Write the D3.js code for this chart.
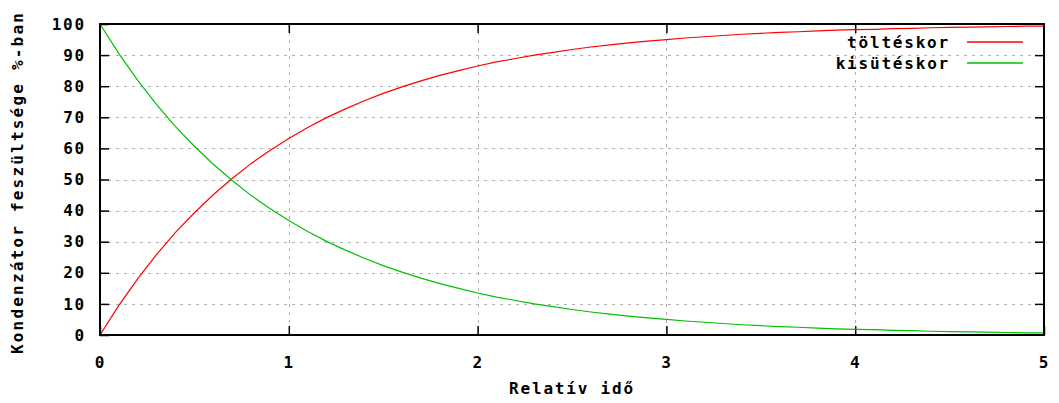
<!DOCTYPE html>
<html>
<head>
<meta charset="utf-8">
<script src="https://cdn.jsdelivr.net/npm/d3@7"></script>
<style>
  body { margin: 0; background: #fff; }
  text { font-family: "DejaVu Sans Mono", "Liberation Mono", monospace; font-weight: bold; font-size: 16px; fill: #000; letter-spacing: 1.8px; }
</style>
</head>
<body>
<div class="vis-chart"></div>
<script>
// values, every 0.1 of relative time
const times = d3.range(0, 51).map(i => i / 10);
const charging = [0, 9.5, 18.1, 25.9, 33.0, 39.3, 45.1, 50.3, 55.1, 59.3, 63.2, 66.7, 69.9, 72.7, 75.3, 77.7, 79.8, 81.7, 83.5, 85.0, 86.5,
  87.8, 88.9, 90.0, 90.9, 91.8, 92.6, 93.3, 93.9, 94.5, 95.0, 95.5, 95.9, 96.3, 96.7, 97.0, 97.3, 97.5, 97.8, 98.0, 98.2,
  98.3, 98.5, 98.6, 98.8, 98.9, 99.0, 99.1, 99.2, 99.3, 99.3];
const discharging = [100, 90.5, 81.9, 74.1, 67.0, 60.7, 54.9, 49.7, 44.9, 40.7, 36.8, 33.3, 30.1, 27.3, 24.7, 22.3, 20.2, 18.3, 16.5, 15.0, 13.5,
  12.2, 11.1, 10.0, 9.1, 8.2, 7.4, 6.7, 6.1, 5.5, 5.0, 4.5, 4.1, 3.7, 3.3, 3.0, 2.7, 2.5, 2.2, 2.0, 1.8,
  1.7, 1.5, 1.4, 1.2, 1.1, 1.0, 0.9, 0.8, 0.7, 0.7];
const seriesNames = ['töltéskor', 'kisütéskor'];
const seriesColors = ['#ff0000', '#00c000'];
const xTicks = [0, 1, 2, 3, 4, 5];
const yTicks = [0, 10, 20, 30, 40, 50, 60, 70, 80, 90, 100];

const W = 1059, H = 403;
const margin = { top: 24, right: 15, bottom: 68, left: 100 };
const width = W - margin.left - margin.right;
const height = H - margin.top - margin.bottom;

const svg = d3.select('.vis-chart')
    .append('svg')
    .attr('width', W)
    .attr('height', H)
    .append('g')
    .attr('transform', 'translate(' + margin.left + ',' + margin.top + ')');

const x = d3.scaleLinear().domain([0, 5]).range([0, width]);
const y = d3.scaleLinear().domain([0, 100]).range([height, 0]);

// grid
const grid = svg.append('g')
    .attr('stroke', '#b0b0b0')
    .attr('stroke-width', 1)
    .attr('stroke-dasharray', '3,5')
    .attr('shape-rendering', 'crispEdges');
grid.selectAll('.hgrid')
    .data(yTicks.slice(1, -1))
    .enter()
    .append('line')
    .attr('x1', 0).attr('x2', width)
    .attr('y1', d => Math.round(y(d)) + 0.5).attr('y2', d => Math.round(y(d)) + 0.5);
grid.selectAll('.vgrid')
    .data(xTicks.slice(1, -1))
    .enter()
    .append('line')
    .attr('y1', 0).attr('y2', height)
    .attr('x1', d => Math.round(x(d)) + 0.5).attr('x2', d => Math.round(x(d)) + 0.5);

// axes (ticks inside, mirrored)
const tick = 9;
const axisFmt = d3.format('d');
svg.append('g')
    .attr('class', 'y axis')
    .call(d3.axisLeft(y).tickValues(yTicks).tickSizeInner(-tick).tickSizeOuter(0).tickPadding(tick + 5).tickFormat(axisFmt));
svg.append('g')
    .attr('transform', 'translate(' + width + ',0)')
    .call(d3.axisRight(y).tickValues(yTicks.slice(1, -1)).tickSizeInner(-tick).tickSizeOuter(0).tickFormat(''));
svg.append('g')
    .attr('class', 'x axis')
    .attr('transform', 'translate(0,' + height + ')')
    .call(d3.axisBottom(x).tickValues(xTicks).tickSizeInner(-tick).tickSizeOuter(0).tickPadding(tick + 13).tickFormat(axisFmt));
svg.append('g')
    .call(d3.axisTop(x).tickValues(xTicks.slice(1, -1)).tickSizeInner(-tick).tickSizeOuter(0).tickFormat(''));
svg.selectAll('.domain').remove();
svg.selectAll('.tick line').attr('stroke', '#000').attr('stroke-width', 1.5);
svg.selectAll('.tick text')
    .style('font-family', '"DejaVu Sans Mono", monospace')
    .style('font-weight', 'bold')
    .style('font-size', '16px')
    .attr('fill', '#000');

// lines
const line = d3.line().x((d, i) => x(times[i])).y(d => y(d));
[charging, discharging].forEach((vals, i) => {
    svg.append('path')
        .datum(vals)
        .attr('fill', 'none')
        .attr('stroke', seriesColors[i])
        .attr('stroke-width', 1.2)
        .attr('d', line);
});

// border
svg.append('rect')
    .attr('width', width)
    .attr('height', height)
    .attr('fill', 'none')
    .attr('stroke', '#000')
    .attr('stroke-width', 2);

// legend
const legend = svg.append('g')
    .attr('transform', 'translate(' + (width - 94) + ',0)');
const items = legend.selectAll('.legend_item')
    .data(seriesNames)
    .enter()
    .append('g')
    .attr('transform', (d, i) => 'translate(0,' + (18 + i * 21) + ')');
items.append('text')
    .attr('text-anchor', 'end')
    .attr('dy', '0.35em')
    .text(d => d);
items.append('line')
    .attr('x1', 17).attr('x2', 73)
    .attr('stroke', (d, i) => seriesColors[i])
    .attr('stroke-width', 1.5);

// axis titles
svg.append('text')
    .attr('x', width / 2)
    .attr('y', height + 59)
    .attr('text-anchor', 'middle')
    .text('Relatív idő');
svg.append('text')
    .attr('transform', 'translate(' + (-77) + ',' + (height / 2 + 3) + ')rotate(-90)')
    .attr('text-anchor', 'middle')
    .style('letter-spacing', '2.2px')
    .text('Kondenzátor feszültsége %-ban');
</script>
</body>
</html>
